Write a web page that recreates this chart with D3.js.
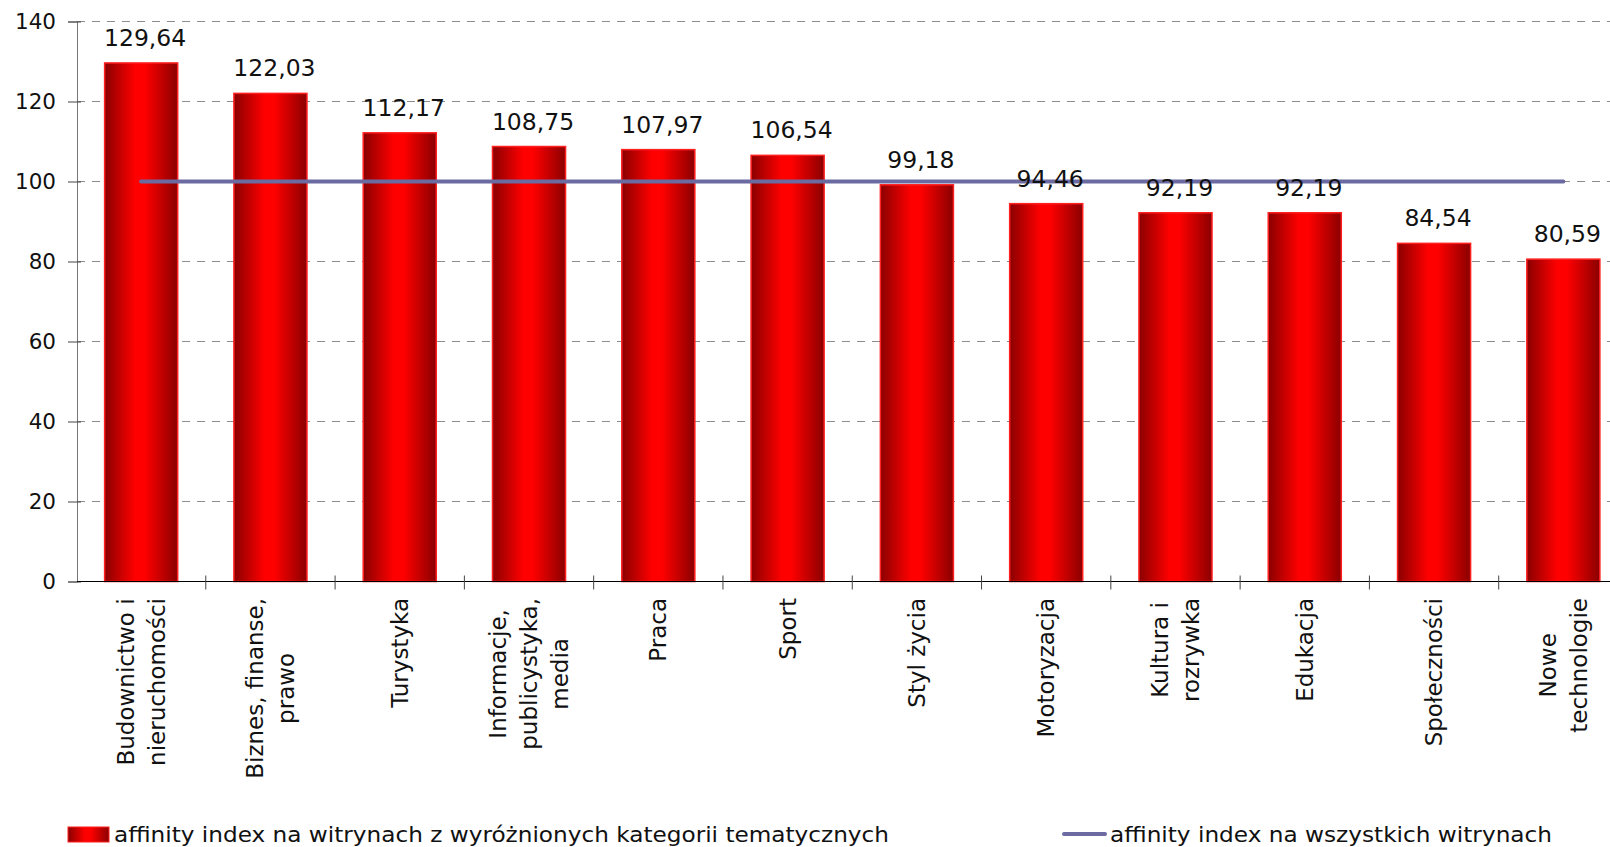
<!DOCTYPE html>
<html>
<head>
<meta charset="utf-8">
<script src="https://cdn.jsdelivr.net/npm/d3@7"></script>
<style>
  html, body { margin: 0; padding: 0; background: #fff; overflow: hidden; }
  svg { display: block; }
  text { font-family: "DejaVu Sans", Verdana, sans-serif; fill: #111; }
</style>
</head>
<body>
<svg id="chart" width="1610" height="847"></svg>
<script>
const categories = [
  ["Budownictwo i", "nieruchomości"],
  ["Biznes, finanse,", "prawo"],
  ["Turystyka"],
  ["Informacje,", "publicystyka,", "media"],
  ["Praca"],
  ["Sport"],
  ["Styl życia"],
  ["Motoryzacja"],
  ["Kultura i", "rozrywka"],
  ["Edukacja"],
  ["Społeczności"],
  ["Nowe", "technologie"]
];
const barValues = [129.64, 122.03, 112.17, 108.75, 107.97, 106.54, 99.18, 94.46, 92.19, 92.19, 84.54, 80.59];
const barLabels = ["129,64", "122,03", "112,17", "108,75", "107,97", "106,54", "99,18", "94,46", "92,19", "92,19", "84,54", "80,59"];
const lineValues = [100, 100, 100, 100, 100, 100, 100, 100, 100, 100, 100, 100];
const yTicks = [0, 20, 40, 60, 80, 100, 120, 140];
const legendLabels = ["affinity index na witrynach z wyróżnionych kategorii tematycznych", "affinity index na wszystkich witrynach"];

const svg = d3.select("#chart");
const keys = categories.map((c, i) => "c" + i);

const x = d3.scaleBand().domain(keys).range([76.5, 1628]).paddingInner(0.435).paddingOuter(0.2175);
const y = d3.scaleLinear().domain([0, 140]).range([581.5, 21.5]);

// gradient
const defs = svg.append("defs");
const grad = defs.append("linearGradient").attr("id", "barGrad").attr("x1", "0%").attr("x2", "100%").attr("y1", "0%").attr("y2", "0%");
grad.append("stop").attr("offset", "0%").attr("stop-color", "#8a0000");
grad.append("stop").attr("offset", "42%").attr("stop-color", "#ff0000");
grad.append("stop").attr("offset", "55%").attr("stop-color", "#ff0000");
grad.append("stop").attr("offset", "100%").attr("stop-color", "#8a0000");

// gridlines
svg.append("g").selectAll("line").data(yTicks.filter(t => t > 0)).join("line")
  .attr("x1", 77).attr("x2", 1610)
  .attr("y1", d => y(d)).attr("y2", d => y(d))
  .attr("stroke", "#8c8c8c").attr("stroke-width", 1).attr("stroke-dasharray", "8,7");

// y axis
const yAxis = svg.append("g").attr("transform", "translate(77,0)")
  .call(d3.axisLeft(y).tickValues(yTicks).tickSize(9).tickPadding(12).tickFormat(d3.format("d")));
yAxis.select(".domain").attr("stroke", "#777");
yAxis.selectAll(".tick line").attr("stroke", "#444").attr("x2", -9).attr("x1", 4);
yAxis.selectAll(".tick text").attr("font-size", "21.5px").attr("font-family", "DejaVu Sans, Verdana, sans-serif").attr("fill", "#111");

// bars
svg.append("g").selectAll("rect").data(barValues).join("rect")
  .attr("x", (d, i) => x(keys[i]))
  .attr("width", x.bandwidth())
  .attr("y", d => y(d))
  .attr("height", d => y(0) - y(d))
  .attr("fill", "url(#barGrad)")
  .attr("stroke", "#ff2020").attr("stroke-width", 1.5);

// x axis
svg.append("line").attr("x1", 77).attr("x2", 1610).attr("y1", y(0)).attr("y2", y(0)).attr("stroke", "#000").attr("stroke-width", 1.2);
const boundaries = d3.range(0, 13).map(k => x.range()[0] + k * x.step());
svg.append("g").selectAll("line").data(boundaries.slice(1)).join("line")
  .attr("x1", d => d).attr("x2", d => d)
  .attr("y1", y(0) - 6).attr("y2", y(0) + 8)
  .attr("stroke", "#444").attr("stroke-width", 1);

// line series
const lineGen = d3.line().x((d, i) => x(keys[i]) + x.bandwidth() / 2).y(d => y(d));
svg.append("path").datum(lineValues).attr("d", lineGen)
  .attr("fill", "none").attr("stroke", "#6b6ba1").attr("stroke-width", 4).attr("stroke-linecap", "round");

// value labels
svg.append("g").selectAll("text").data(barValues).join("text")
  .attr("x", (d, i) => x(keys[i]) + x.bandwidth() / 2 + 4)
  .attr("y", d => y(d) - 17)
  .attr("text-anchor", "middle")
  .attr("font-size", "23.5px")
  .text((d, i) => barLabels[i]);

// category labels (rotated)
const lineH = 31;
categories.forEach((lines, i) => {
  const cx = x(keys[i]) + x.bandwidth() / 2;
  const g = svg.append("g");
  const t = g.append("text").attr("font-size", "23px").attr("text-anchor", "middle");
  lines.forEach((ln, k) => {
    t.append("tspan").attr("x", 0).attr("y", (k - (lines.length - 1) / 2) * lineH + 8).text(ln);
  });
  let maxLen = 0;
  t.selectAll("tspan").each(function() { maxLen = Math.max(maxLen, this.getComputedTextLength()); });
  const topY = 598;
  g.attr("transform", `translate(${cx},${topY + maxLen / 2}) rotate(-90)`);
});

// legend
const lg = svg.append("g");
lg.append("rect").attr("x", 68).attr("y", 827).attr("width", 41).attr("height", 15)
  .attr("fill", "url(#barGrad)").attr("stroke", "#ff2020").attr("stroke-width", 1);
lg.append("text").attr("x", 114).attr("y", 842).attr("font-size", "21px")
  .attr("textLength", 775).attr("lengthAdjust", "spacingAndGlyphs").text(legendLabels[0]);
lg.append("line").attr("x1", 1064).attr("x2", 1105).attr("y1", 834).attr("y2", 834)
  .attr("stroke", "#6b6ba1").attr("stroke-width", 4).attr("stroke-linecap", "round");
lg.append("text").attr("x", 1110).attr("y", 842).attr("font-size", "21px")
  .attr("textLength", 442).attr("lengthAdjust", "spacingAndGlyphs").text(legendLabels[1]);
</script>
</body>
</html>
